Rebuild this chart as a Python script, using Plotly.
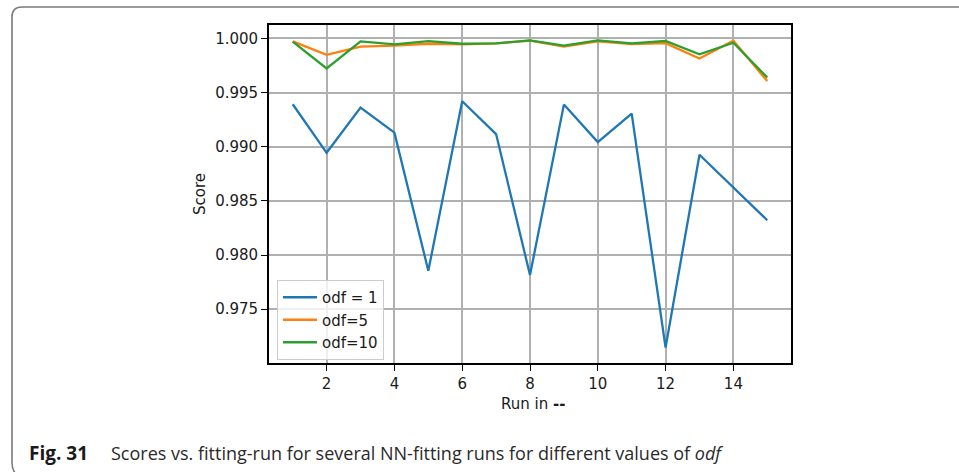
import plotly.graph_objects as go

runs = list(range(1, 16))
odf1 = [0.99392, 0.98944, 0.99361, 0.99130, 0.97855, 0.99420, 0.99117, 0.97815,
        0.99389, 0.99043, 0.99306, 0.97145, 0.98926, 0.98625, 0.98321]
odf5 = [0.99973, 0.99848, 0.99924, 0.99933, 0.99951, 0.99945, 0.99954, 0.99979,
        0.99924, 0.99973, 0.99948, 0.99957, 0.99814, 0.99979, 0.99607]
odf10 = [0.99970, 0.99723, 0.99973, 0.99945, 0.99976, 0.99951, 0.99954, 0.99982,
         0.99933, 0.99982, 0.99954, 0.99976, 0.99854, 0.99960, 0.99640]
series_names = ["odf = 1", "odf=5", "odf=10"]
colors = ["#1f77b4", "#ff7f0e", "#2ca02c"]
x_ticks = [2, 4, 6, 8, 10, 12, 14]
y_ticks = [0.975, 0.980, 0.985, 0.990, 0.995, 1.000]

W, H = 959, 472
L, R, T, B = 269, 791, 25, 363
pw, ph = R - L, B - T

def px(x):
    return (x - L) / pw

def py(y):
    return (B - y) / ph

fig = go.Figure()
for name, vals, c in zip(series_names, [odf1, odf5, odf10], colors):
    fig.add_trace(go.Scatter(x=runs, y=vals, mode="lines", name=name,
                             line=dict(color=c, width=2.3)))

font = "DejaVu Sans"
fs = 15
axis_common = dict(showline=True, mirror=True, linecolor="black", linewidth=1.8,
                   ticks="outside", ticklen=6, tickwidth=1.2, tickcolor="black",
                   showgrid=True, gridcolor="#b0b0b0", gridwidth=1.5,
                   zeroline=False, tickfont=dict(family=font, size=fs, color="#1a1a1a"))

fig.update_xaxes(range=[0.3, 15.7], tickvals=x_ticks, **axis_common)
fig.update_yaxes(range=[0.97003, 1.00124], tickvals=y_ticks, tickformat=".3f", **axis_common)

# frame path (rounded corner top-left & bottom-left)
path = (f"M {px(962)},{py(7)} L {px(22)},{py(7)} Q {px(12)},{py(7)} {px(12)},{py(17)} "
        f"L {px(12)},{py(462)} Q {px(12)},{py(470)} {px(16)},{py(474)}")
shapes = [dict(type="path", xref="paper", yref="paper", path=path,
               line=dict(color="#7a7a7a", width=1.6), layer="above")]

annotations = [
    dict(text="Score", x=px(200), y=py(194), xref="paper", yref="paper",
         textangle=-90, showarrow=False, font=dict(family=font, size=fs, color="#1a1a1a"),
         xanchor="center", yanchor="middle"),
    dict(text="Run in <b>--</b>", x=px(533), y=py(404), xref="paper", yref="paper",
         showarrow=False, font=dict(family=font, size=fs, color="#1a1a1a"),
         xanchor="center", yanchor="middle"),
    dict(text="<b>Fig. 31</b>", x=px(27), y=py(453), xref="paper", yref="paper",
         showarrow=False, font=dict(family="Open Sans", size=19, color="#1a1a1a"),
         xanchor="left", yanchor="middle"),
    dict(text="Scores vs. fitting-run for several NN-fitting runs for different values of <i>odf</i>",
         x=px(109), y=py(453), xref="paper", yref="paper",
         showarrow=False, font=dict(family="Open Sans", size=18, color="#2a2a2a"),
         xanchor="left", yanchor="middle"),
]

fig.update_layout(
    width=W, height=H, autosize=False,
    margin=dict(l=L, r=W - R, t=T, b=H - B, pad=0),
    paper_bgcolor="white", plot_bgcolor="white",
    shapes=shapes, annotations=annotations,
    legend=dict(x=px(277), y=py(280), xanchor="left", yanchor="top",
                bgcolor="rgba(255,255,255,0.8)", bordercolor="#cccccc", borderwidth=1,
                font=dict(family=font, size=fs, color="#1a1a1a"),
                itemwidth=34, tracegroupgap=0),
    showlegend=True,
)

fig.write_html("out.html")
